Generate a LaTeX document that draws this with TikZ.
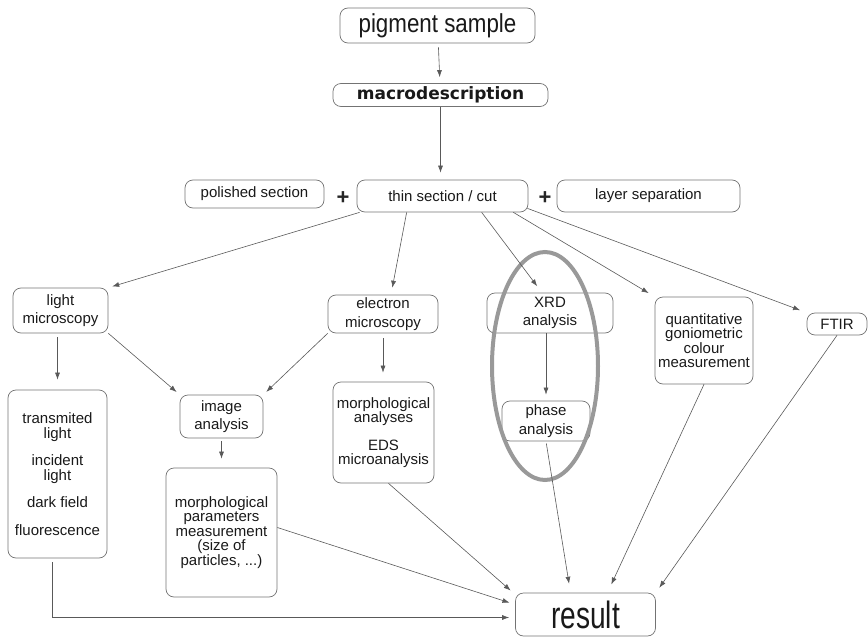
\documentclass[tikz,border=0pt]{standalone}
\usepackage{fontspec}
\setmainfont{Liberation Sans}
\newfontfamily\titlefont[FakeStretch=0.86]{Liberation Sans}
\newfontfamily\resultfont[FakeStretch=0.74]{Liberation Sans}
\newfontfamily\widefont{DejaVu Sans}
\usetikzlibrary{shapes.geometric, arrows.meta}

\begin{document}
\begin{tikzpicture}[
        x=1pt, y=-1pt,
        >={Latex[length=7pt,width=5pt]},
        box/.style={draw=black!55, line width=0.7pt, rounded corners=8pt,
            align=center, inner sep=1pt, text=black!90,
            font=\fontsize{15}{18.5}\selectfont},
        tight/.style={font=\fontsize{15}{14.5}\selectfont},
        link/.style={->, draw=black!65, line width=0.6pt},
        plus/.style={font=\bfseries\fontsize{22}{22}\selectfont, text=black!85, inner sep=0pt}
    ]

    \useasboundingbox (0,0) rectangle (868,637);

    % top of the chain
    \node[box, minimum width=195pt, minimum height=35pt, font=\titlefont\fontsize{26}{28}\selectfont]
        (pigment) at (437.5,25.5) {pigment sample};
    \node[box, minimum width=215pt, minimum height=23pt, font=\widefont\bfseries\fontsize{17}{18}\selectfont]
        (macro) at (440.5,95) {macrodescription};

    % preparation
    \node[box, minimum width=139pt, minimum height=28pt] (polished) at (254.5,194) {polished section};
    \node[box, minimum width=171pt, minimum height=32pt] (thin) at (442.5,196) {thin section / cut};
    \node[box, minimum width=183pt, minimum height=32pt] (layer) at (648.5,196) {layer separation};
    \node[plus] (plusA) at (343,198) {+};
    \node[plus] (plusB) at (545,198) {+};

    % methods
    \node[box, minimum width=95pt, minimum height=45pt] (light) at (60.5,310.5) {light\\microscopy};
    \node[box, minimum width=110pt, minimum height=38pt] (electron) at (383,314) {electron\\microscopy};
    \node[box, minimum width=126pt, minimum height=40pt] (xrd) at (550,313) {XRD\\analysis};
    \node[box, tight, minimum width=98pt, minimum height=87pt] (quant) at (704,340.5)
        {quantitative\\goniometric\\colour\\measurement};
    \node[box, minimum width=60pt, minimum height=22pt] (ftir) at (837,324) {FTIR};

    % second level
    \node[box, tight, minimum width=99pt, minimum height=168pt] (trans) at (57.5,474)
        {transmited\\light\\[13pt]incident\\light\\[13pt]dark field\\[13pt]fluorescence};
    \node[box, minimum width=83pt, minimum height=43pt] (image) at (221.5,416.5) {image\\analysis};
    \node[box, tight, minimum width=101pt, minimum height=101pt] (morphan) at (383.5,432.5)
        {morphological\\analyses\\[13pt]EDS\\microanalysis};
    \node[box, minimum width=88pt, minimum height=40pt] (phase) at (546,421) {phase\\analysis};
    \node[box, tight, minimum width=111pt, minimum height=129pt] (params) at (221.5,532.5)
        {morphological\\parameters\\measurement\\(size of\\particles, ...)};

    \node[box, minimum width=140pt, minimum height=43pt, font=\resultfont\fontsize{38}{40}\selectfont]
        (result) at (585.5,614.5) {result};

    % highlight round XRD
    \node[draw=black!40, line width=4pt, ellipse, minimum width=106pt, minimum height=228pt]
        (ring) at (545,366) {};

    % arrows
    \draw[link, shorten <=4pt, shorten >=6pt] (pigment) -- (macro);
    \draw[link, shorten >=7pt] (macro.south) -- (macro.south |- thin.north);

    \draw[link, shorten >=4pt] ([xshift=3pt]thin.south west) -- (light.north east);
    \draw[link, shorten >=7pt] ([xshift=50pt]thin.south west) -- ([xshift=8pt]electron.north);
    \draw[link, shorten >=8pt] ([xshift=125pt]thin.south west) -- ([xshift=-8pt]xrd.north);
    \draw[link, shorten >=7pt] ([xshift=-15pt]thin.south east) -- (quant.north west);
    \draw[link, shorten >=7pt] ([xshift=-1pt,yshift=4pt]thin.south east) -- (ftir.north west);

    \draw[link, shorten <=4pt, shorten >=10pt] (trans.north |- light.south) -- (trans.north);
    \draw[link, shorten >=4pt] (light.south east) -- (image.north west);
    \draw[link, shorten >=4pt] (electron.south west) -- (image.north east);
    \draw[link, shorten <=5pt, shorten >=9pt] (electron.south) -- (electron.south |- morphan.north);
    \draw[link, shorten >=6pt] (phase.north |- xrd.south) -- (phase.north);
    \draw[link, shorten <=3pt, shorten >=9pt] (image.south) -- (params.north);

    \draw[link, shorten >=6pt] ([yshift=5pt]params.east) -- ([yshift=10pt]result.west);
    \draw[link, shorten >=6pt] ([xshift=5pt]morphan.south) -- ([yshift=20pt]result.west);
    \draw[link, shorten <=4pt, shorten >=6pt] ([xshift=-5pt]trans.south) |- ([yshift=-3pt]result.west);
    \draw[link, shorten <=2pt, shorten >=9pt] (phase.south) -- ([xshift=-15pt]result.north);
    \draw[link, shorten >=9pt] (quant.south) -- ([xshift=22pt]result.north);
    \draw[link, shorten >=6pt] (ftir.south) -- (result.north east);

\end{tikzpicture}
\end{document}
